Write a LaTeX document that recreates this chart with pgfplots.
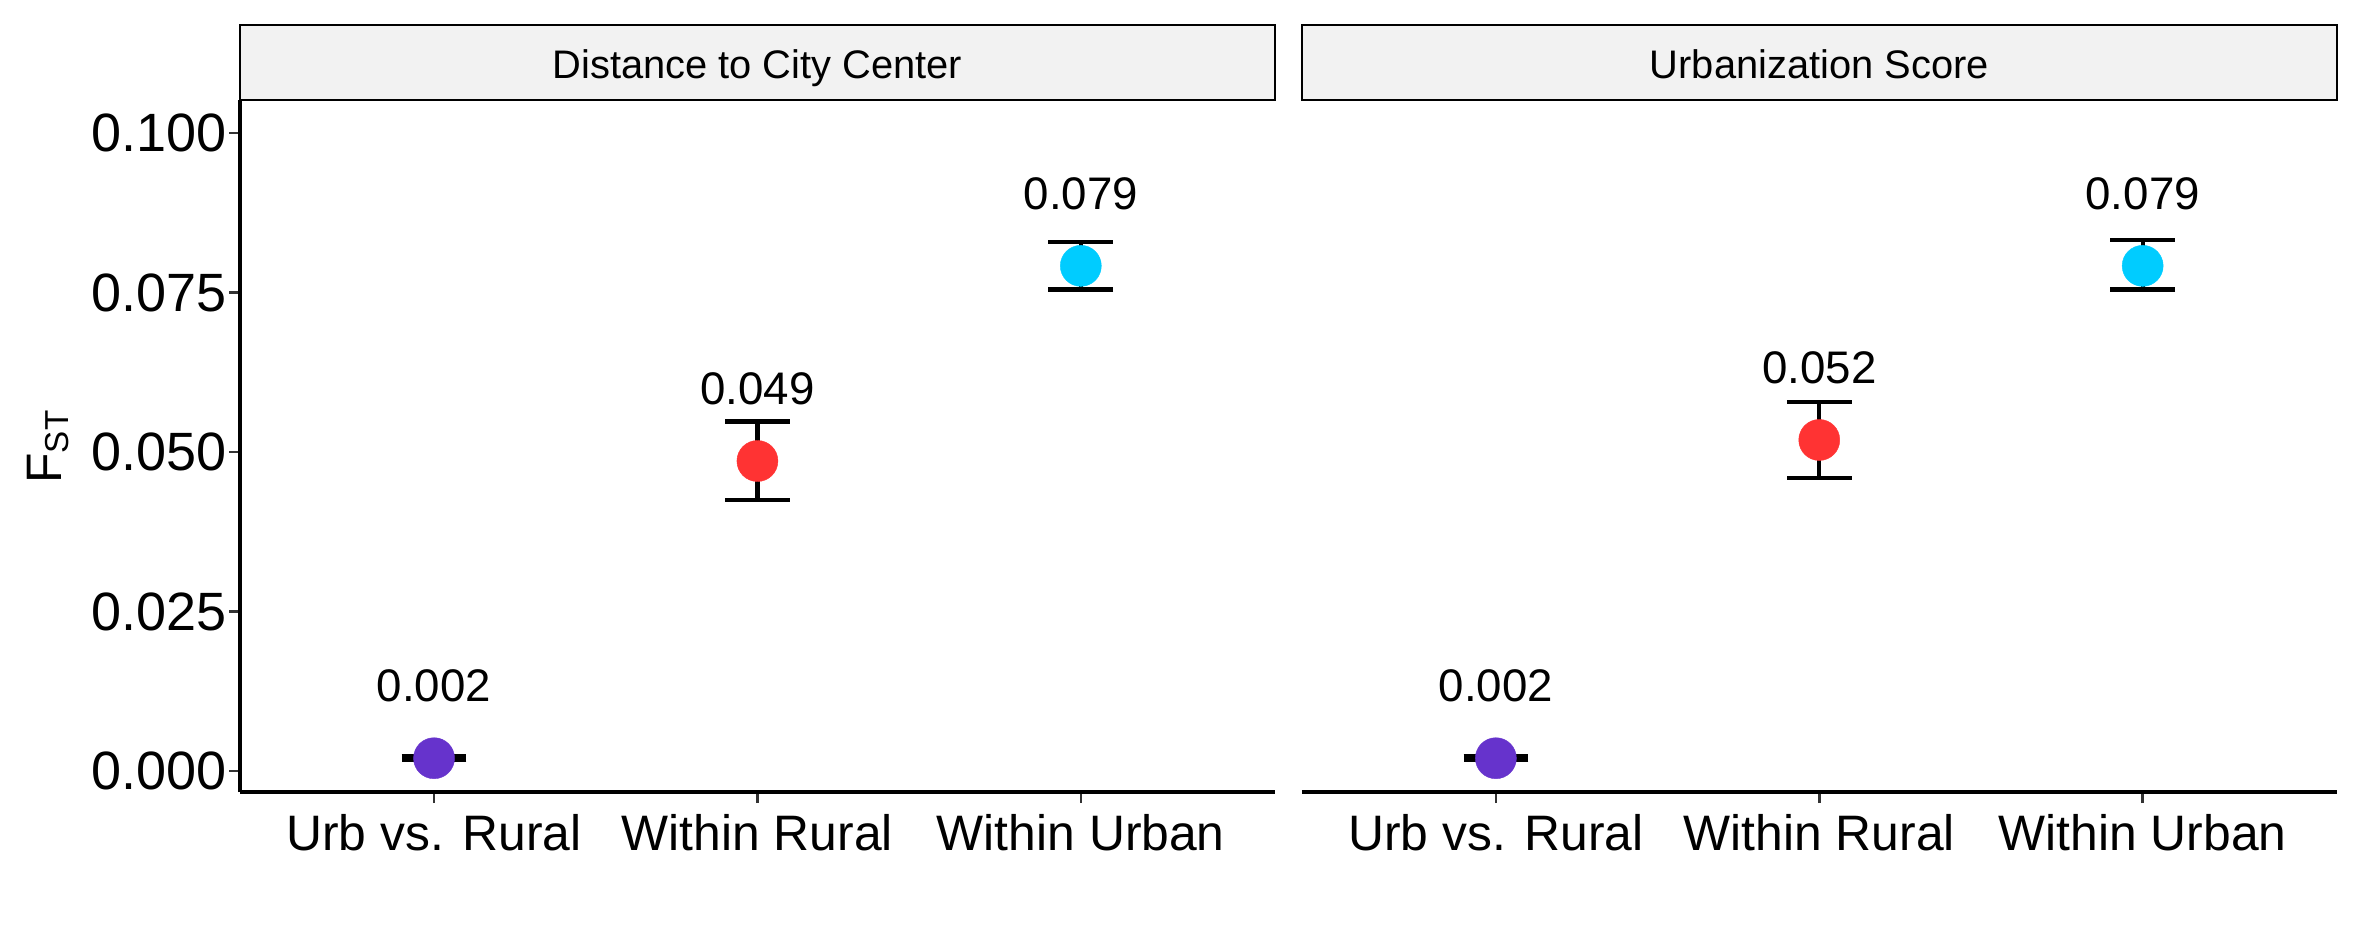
\documentclass[border=0pt]{standalone}
\usepackage{fontspec}
\setmainfont{Liberation Sans}
\usepackage{pgfplots}
\usepackage{pgfplotstable}
\pgfplotsset{compat=1.18}
\definecolor{cpur}{HTML}{6633CC}
\definecolor{cred}{HTML}{FF3333}
\definecolor{ccyan}{HTML}{00CCFF}
\definecolor{stripgray}{HTML}{F2F2F2}
\definecolor{tickgray}{HTML}{333333}

\pgfplotstableread{
x y ep em cls lab
1 0.0020 0.0003 0.0003 a 0.002
2 0.0486 0.0062 0.0061 b 0.049
3 0.0792 0.0038 0.0037 c 0.079
}\dist
\pgfplotstableread{
x y ep em cls lab
1 0.0020 0.0003 0.0003 a 0.002
2 0.0519 0.0059 0.0059 b 0.052
3 0.0792 0.0040 0.0037 c 0.079
}\urb

\pgfplotsset{panel/.style={
  scale only axis, width=249.3pt, height=166.7pt,
  xmin=0.4, xmax=3.6, ymin=-0.0033, ymax=0.1052,
  xtick={1,2,3}, xticklabels={Urb vs. Rural, Within Rural, Within Urban},
  axis x line*=bottom,
  axis line style={line width=1pt, -},
  tick style={line width=0.6pt, color=tickgray},
  tick align=outside, major tick length=2.65pt,
  tick label style={font=\fontsize{12}{14}\selectfont},
  xticklabel style={anchor=north, inner sep=0pt, yshift=-2.5pt},
  yticklabel style={anchor=east, inner sep=0pt, xshift=-0.4pt, font=\fontsize{13}{15}\selectfont},
  scaled y ticks=false,
  clip=false,
},
errs/.style={black, only marks, mark=none,
  error bars/.cd, y dir=both, y explicit, error mark=|,
  error mark options={black, line width=1pt, mark size=7.8pt},
  error bar style={line width=1pt, black}},
pts/.style={scatter, only marks, mark=*, mark size=4.94pt,
  scatter src=explicit symbolic,
  scatter/classes={a={cpur}, b={cred}, c={ccyan}}},
labs/.style={only marks, mark=none, nodes near coords, point meta=explicit symbolic,
  nodes near coords style={anchor=base, yshift=13.6pt, font=\fontsize{11}{13}\selectfont, inner sep=0pt, black}},
}

\begin{document}
\begin{tikzpicture}
\begin{axis}[panel, name=L,
  axis y line*=left,
  ytick={0,0.025,0.05,0.075,0.1},
  yticklabels={0.000,0.025,0.050,0.075,0.100},
  ylabel={F\textsubscript{ST}},
  ylabel style={at={([xshift=-43.1pt]axis description cs:0,0.5)}, anchor=base, inner sep=0pt, font=\fontsize{12}{14}\selectfont},
]
\addplot[errs] table[x=x, y=y, y error plus=ep, y error minus=em]{\dist};
\addplot[pts, mark options={line width=0.1pt}] table[x=x, y=y, meta=cls]{\dist};
\addplot[labs] table[x=x, y=y, meta=lab]{\dist};
\draw[fill=stripgray, line width=0.55pt] (rel axis cs:0,1) rectangle ([yshift=18.07pt]rel axis cs:1,1);
\node[anchor=base, font=\fontsize{9.6}{11}\selectfont, inner sep=0pt] at ([yshift=5.3pt]rel axis cs:0.5,1) {Distance to City Center};
\end{axis}
\begin{axis}[panel, at={(255.8pt,0pt)}, anchor=south west,
  axis y line=none, ytick=\empty,
]
\addplot[errs] table[x=x, y=y, y error plus=ep, y error minus=em]{\urb};
\addplot[pts, mark options={line width=0.1pt}] table[x=x, y=y, meta=cls]{\urb};
\addplot[labs] table[x=x, y=y, meta=lab]{\urb};
\draw[fill=stripgray, line width=0.55pt] (rel axis cs:0,1) rectangle ([yshift=18.07pt]rel axis cs:1,1);
\node[anchor=base, font=\fontsize{9.6}{11}\selectfont, inner sep=0pt] at ([yshift=5.3pt]rel axis cs:0.5,1) {Urbanization Score};
\end{axis}
\pgfresetboundingbox
\path[use as bounding box] ([shift={(-57.82pt,-36.62pt)}]L.south west) rectangle ([shift={(511.2pt,190.8pt)}]L.south west);
\end{tikzpicture}
\end{document}
